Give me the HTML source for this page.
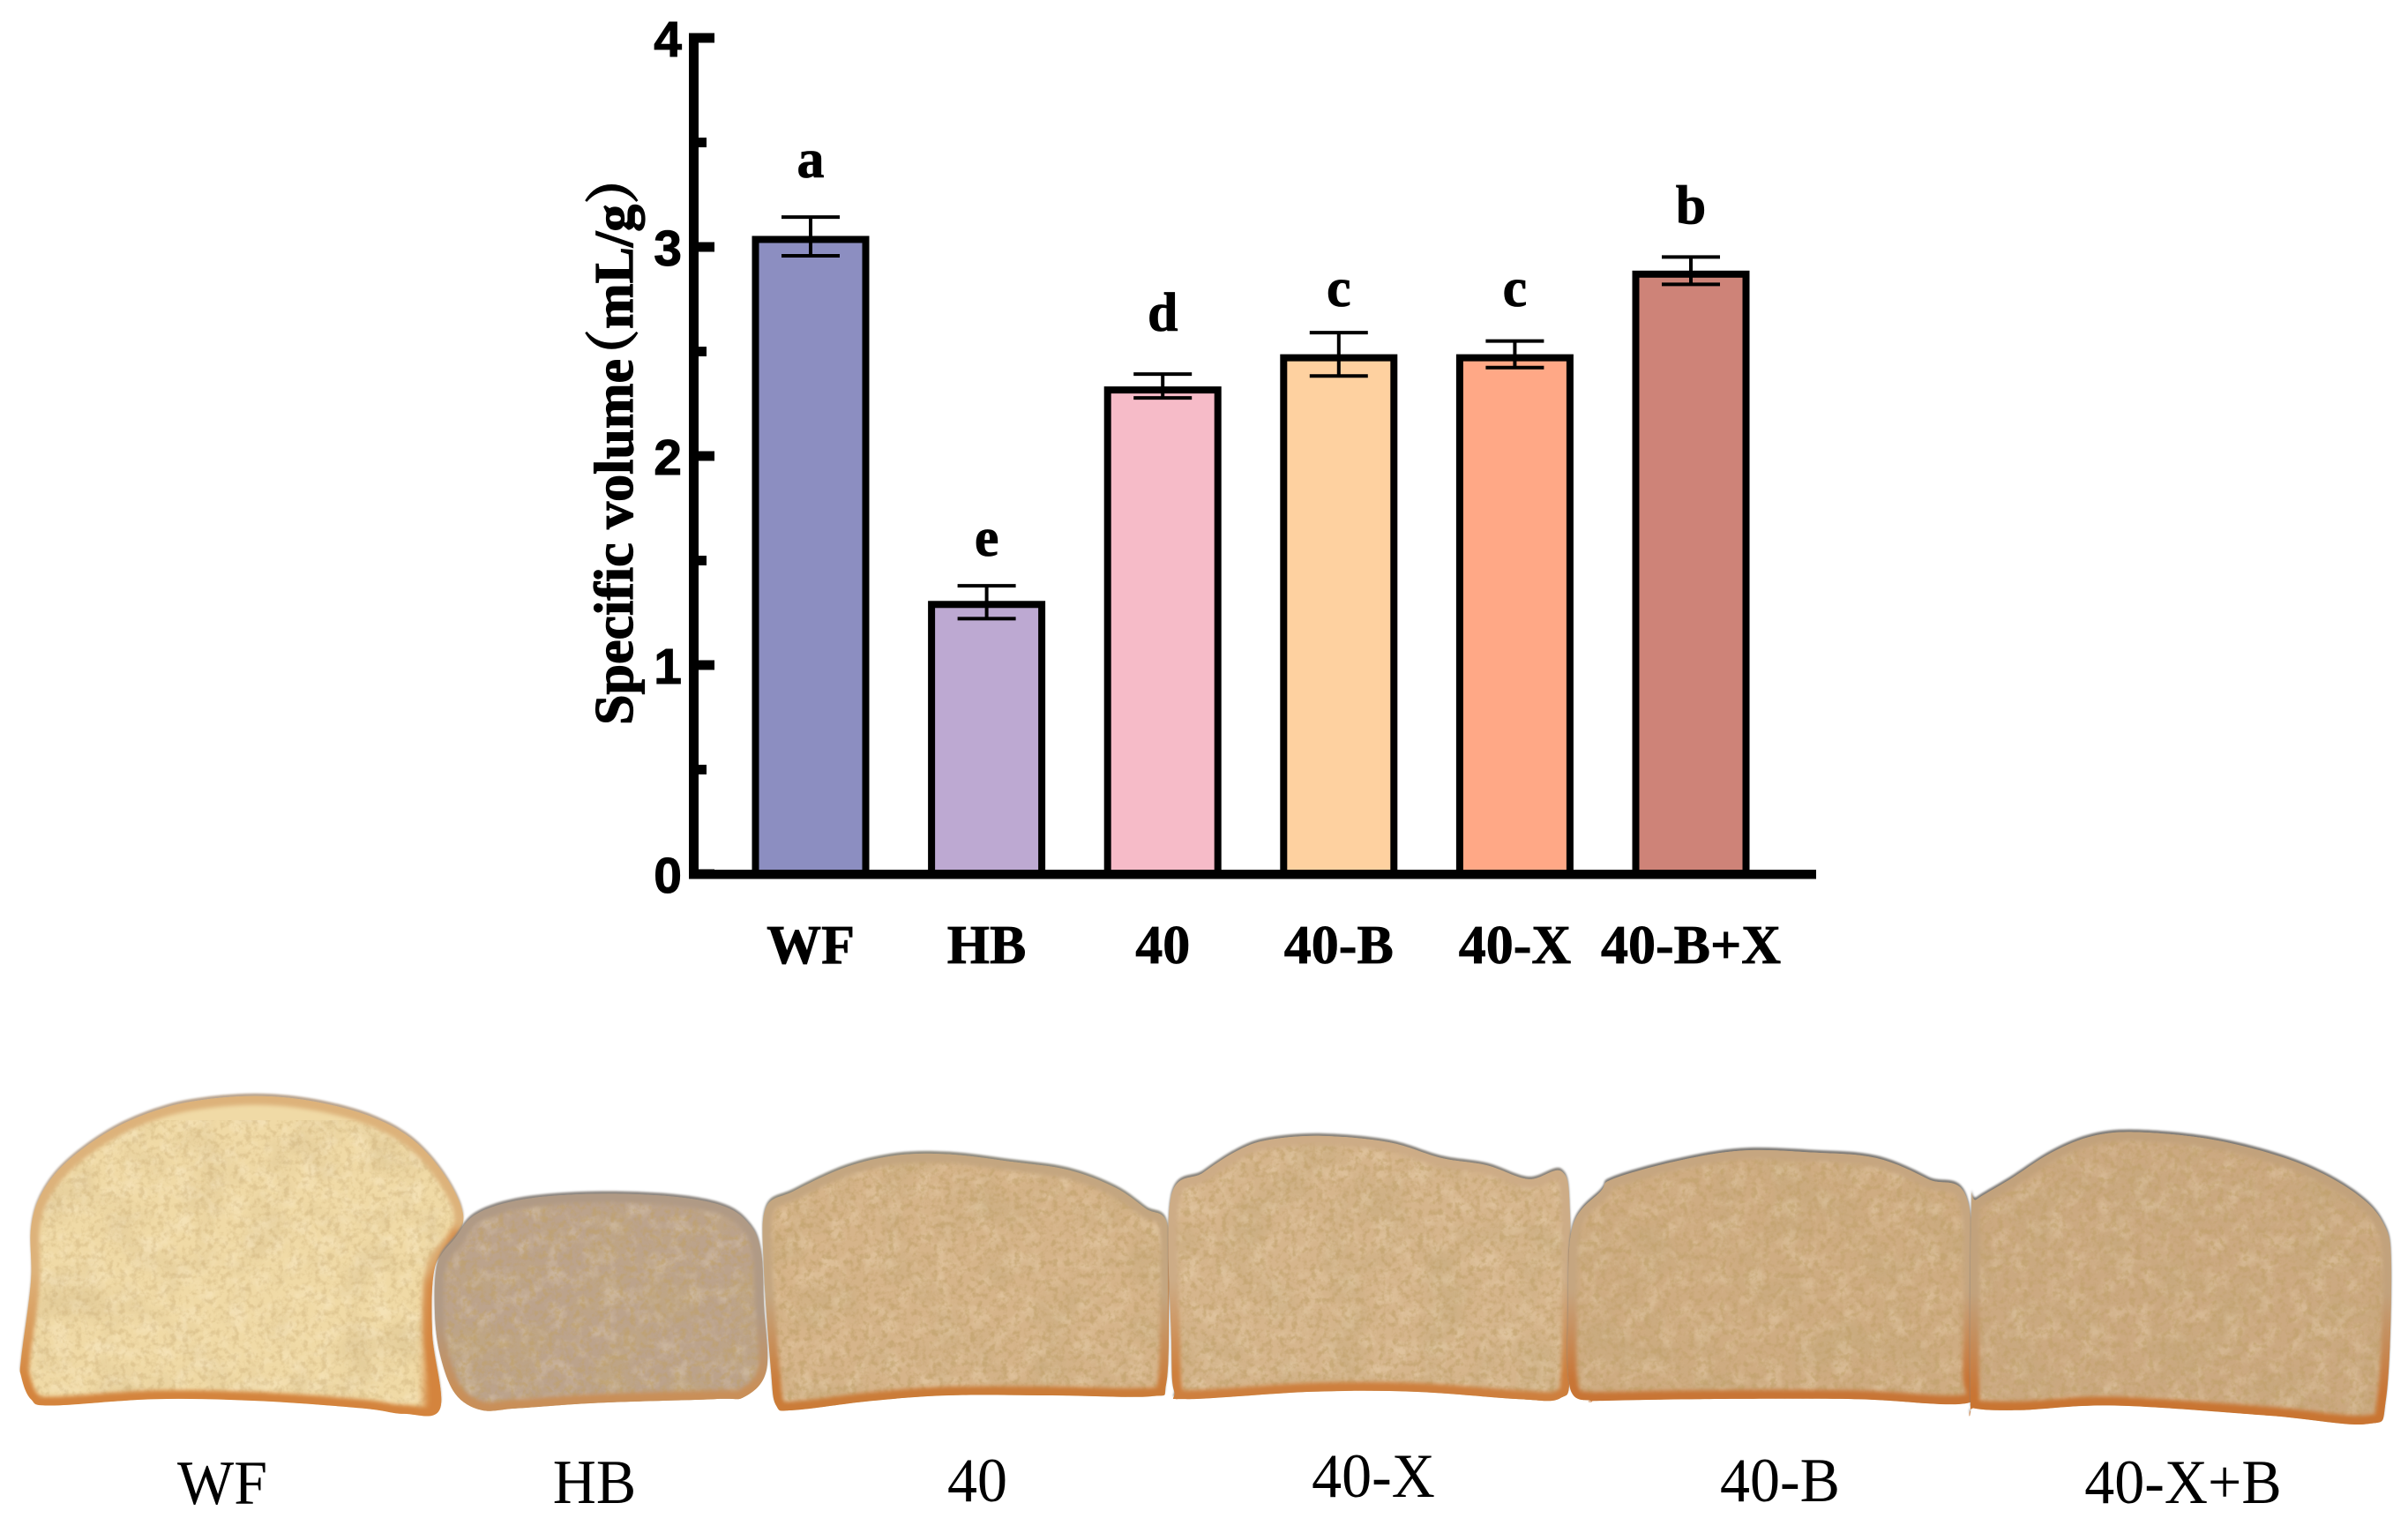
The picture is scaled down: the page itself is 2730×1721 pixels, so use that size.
<!DOCTYPE html>
<html lang="en">
<head>
<meta charset="utf-8">
<title>Specific volume of bread samples</title>
<style>
html,body{margin:0;padding:0;background:#fff;}
svg{display:block;}
.serif{font-family:"Liberation Serif","Noto Serif CJK SC",serif;}
.sans{font-family:"Liberation Sans",sans-serif;}
</style>
</head>
<body>
<svg id="figure" xmlns="http://www.w3.org/2000/svg" width="2730" height="1721" viewBox="0 0 2730 1721">
  <defs>
    <filter id="speck-dark" x="0" y="0" width="100%" height="100%">
      <feTurbulence type="fractalNoise" baseFrequency="0.14" numOctaves="3" seed="4"/>
      <feColorMatrix type="matrix" values="0 0 0 0 .52  0 0 0 0 .35  0 0 0 0 .14  3.4 0 0 0 -1.55"/>
    </filter>
    <filter id="speck-light" x="0" y="0" width="100%" height="100%">
      <feTurbulence type="fractalNoise" baseFrequency="0.05" numOctaves="4" seed="11"/>
      <feColorMatrix type="matrix" values="0 0 0 0 1  0 0 0 0 .9  0 0 0 0 .7  0 2.8 0 0 -1.25"/>
    </filter>
    <filter id="mottle" x="0" y="0" width="100%" height="100%">
      <feTurbulence type="fractalNoise" baseFrequency="0.018" numOctaves="3" seed="23"/>
      <feColorMatrix type="matrix" values="0 0 0 0 .55  0 0 0 0 .40  0 0 0 0 .20  0 0 3 0 -1.35"/>
    </filter>
    <filter id="soft" x="-20%" y="-5%" width="140%" height="110%"><feGaussianBlur stdDeviation="2.5"/></filter>
    <filter id="band-soft" x="-100%" y="-10%" width="300%" height="120%"><feGaussianBlur stdDeviation="5"/></filter>
    <filter id="rim-soft" x="-5%" y="-5%" width="110%" height="110%"><feGaussianBlur stdDeviation="1"/></filter>
  </defs>
  <rect x="0" y="0" width="2730" height="1721" fill="#ffffff"/>

  <g id="loaves"></g>

  <g class="serif" font-size="68" fill="#000" text-anchor="middle">
    <text transform="translate(252 1705) scale(1 1.05)">WF</text>
    <text transform="translate(674 1704) scale(1 1.05)">HB</text>
    <text transform="translate(1108 1702) scale(1 1.05)">40</text>
    <text transform="translate(1557 1697) scale(1 1.05)">40-X</text>
    <text transform="translate(2018 1702) scale(1 1.05)">40-B</text>
    <text transform="translate(2475 1704) scale(1 1.05)">40-X+B</text>
  </g>

  <g id="chart"></g>

  <text class="serif" font-size="62" font-weight="bold" fill="#000" stroke="#000" stroke-width="1.2" transform="rotate(-90 717 822)" x="717" y="822">Specific volume<tspan dx="-28">（</tspan>mL/g）</text>
</svg>

<script>
// Chart data
const categories = ["WF", "HB", "40", "40-B", "40-X", "40-B+X"];
const values = [3.036, 1.29, 2.316, 2.47, 2.47, 2.87];
const errUp = [0.107, 0.089, 0.076, 0.12, 0.08, 0.082];
const errDown = [0.078, 0.068, 0.038, 0.087, 0.047, 0.049];
const sigLetters = ["a", "e", "d", "c", "c", "b"];
const letterLift = [0.19, 0.144, 0.207, 0.127, 0.167, 0.16];
const majorTicks = [0, 1, 2, 3, 4];
const minorTicks = [0.5, 1.5, 2.5, 3.5];
const barFills = ["#8C8EC1", "#BDA9D2", "#F6BBC8", "#FED1A0", "#FFA886", "#CE8378"];

const NS = "http://www.w3.org/2000/svg";
const chart = document.getElementById("chart");
const yScale = v => 991 - v * 237;
const xScale = i => 919 + i * 199.6;

function mk(parent, tag, attrs, text) {
  const el = document.createElementNS(NS, tag);
  for (const k in attrs) el.setAttribute(k, attrs[k]);
  if (text !== undefined) el.textContent = text;
  parent.appendChild(el);
  return el;
}

categories.forEach((cat, i) => {
  const cx = xScale(i);
  const top = yScale(values[i]);
  const bar = mk(chart, "rect", {x: cx - 62.5, y: top, width: 125, height: yScale(0) - top, fill: barFills[i], stroke: "#000", "stroke-width": 8});
  
  
  const hi = yScale(values[i] + errUp[i]);
  const lo = yScale(values[i] - errDown[i]);
  const stem = mk(chart, "line", {x1: cx, x2: cx, y1: hi, y2: lo, stroke: "#000", "stroke-width": 4});
  
  
  const capTop = mk(chart, "line", {x1: cx - 33, x2: cx + 33, y1: hi, y2: hi, stroke: "#000", "stroke-width": 4});
  
  
  const capBottom = mk(chart, "line", {x1: cx - 33, x2: cx + 33, y1: lo, y2: lo, stroke: "#000", "stroke-width": 4});
  
  
  const letter = mk(chart, "text", {x: cx, y: yScale(values[i] + errUp[i] + letterLift[i]), "text-anchor": "middle", "font-size": 62, "font-weight": "bold", class: "serif", fill: "#000", stroke: "#000", "stroke-width": 0.8}, sigLetters[i]);
  
  
  const label = mk(chart, "text", {x: cx, y: 1092, "text-anchor": "middle", "font-size": 62, "font-weight": "bold", class: "serif", fill: "#000", stroke: "#000", "stroke-width": 0.8}, cat);
  
  
});

const yAxisLine = mk(chart, "rect", {x: 781, y: yScale(4) - 5.5, width: 11, height: yScale(0) + 5 - (yScale(4) - 5.5), fill: "#000"});


const xAxisLine = mk(chart, "rect", {x: 781, y: yScale(0) - 5, width: 1278, height: 10.5, fill: "#000"});



majorTicks.forEach(t => {
  const tick = mk(chart, "rect", {x: 781, y: yScale(t) - 5.5, width: 29, height: 11, fill: "#000"});
  
  
  const lab = mk(chart, "text", {x: 773, y: yScale(t) + 21, "text-anchor": "end", "font-size": 57, "font-weight": "bold", class: "sans", fill: "#000", stroke: "#000", "stroke-width": 1}, String(t));
  
  
});
minorTicks.forEach(t => {
  const tick = mk(chart, "rect", {x: 781, y: yScale(t) - 5.5, width: 20, height: 11, fill: "#000"});
  
  
});
</script>

<script>
// Bread photo illustration (not chart data)
const loafNames = ["loaf-wf", "loaf-hb", "loaf-40", "loaf-40-x", "loaf-40-b", "loaf-40-x-b"];
const loafOutlines = [
  [[24,1546],[35,1571],[59,1578],[176,1571],[293,1573],[411,1581],[458,1587],[499,1581],[490,1500],[493,1428],[516,1399],[525,1370],[505,1329],[469,1290],[423,1265],[364,1249],[305,1242],[246,1244],[188,1254],[129,1277],[76,1313],[47,1348],[35,1386],[35,1444],[24,1527]],
  [[540,1370],[593,1354],[675,1348],[763,1351],[822,1362],[851,1383],[863,1412],[866,1469],[869,1539],[845,1568],[810,1571],[681,1575],[587,1581],[546,1583],[516,1565],[499,1523],[493,1476],[496,1424],[516,1396]],
  [[868,1364],[900,1345],[959,1319],[1017,1306],[1076,1305],[1146,1313],[1211,1322],[1264,1341],[1299,1364],[1324,1383],[1325,1476],[1322,1555],[1305,1568],[1193,1567],[1076,1567],[988,1573],[900,1583],[880,1578],[874,1539],[866,1428]],
  [[1327,1354],[1364,1325],[1405,1300],[1440,1289],[1499,1285],[1575,1292],[1634,1309],[1686,1317],[1733,1332],[1771,1324],[1780,1373],[1780,1539],[1769,1570],[1722,1571],[1604,1563],[1487,1563],[1346,1571],[1331,1562],[1328,1507]],
  [[1783,1383],[1815,1345],[1828,1332],[1898,1313],[1974,1301],[2056,1303],[2127,1309],[2186,1332],[2232,1360],[2235,1539],[2232,1575],[2103,1571],[1927,1571],[1810,1573],[1804,1573],[1780,1559],[1778,1470]],
  [[2241,1354],[2279,1332],[2326,1303],[2373,1285],[2426,1281],[2514,1290],[2602,1313],[2667,1345],[2702,1380],[2711,1428],[2705,1571],[2684,1598],[2573,1589],[2397,1578],[2291,1583],[2238,1581],[2234,1571],[2235,1364]]
];
const loafCrumb = ["#F0DAA6", "#BCA38C", "#D6B48A", "#D6B58C", "#CFAC82", "#CCA981"];
const loafCrustTop = ["#DDB27A", "#B09A85", "#C4A680", "#CDAC86", "#C6A680", "#C2A27C"];
const loafCrust = ["#D4843C", "#C98F58", "#CB7B38", "#CE7F3C", "#C87536", "#C97433"];
const loafRim = ["#B9A48F", "#8D8680", "#8F8A7E", "#87827A", "#7E7A76", "#7E7A76"];
const loafSideBands = [
  "M530 1400L500 1460L497 1610",
  "",
  "M1328 1400L1326 1590",
  "M1780 1420L1782 1600",
  "",
  "M2240 1370L2240 1610"
];
const loafBandWidths = [34, 0, 10, 10, 0, 32];

const svgNS = "http://www.w3.org/2000/svg";
const loaves = document.getElementById("loaves");
const defs = document.querySelector("defs");

function smoothPath(p) {
  const n = p.length;
  let d = "M" + p[0][0] + " " + p[0][1];
  for (let i = 0; i < n; i++) {
    const a = p[(i - 1 + n) % n], b = p[i], c = p[(i + 1) % n], e = p[(i + 2) % n];
    d += "C" + (b[0] + (c[0] - a[0]) / 6) + " " + (b[1] + (c[1] - a[1]) / 6) + " " + (c[0] - (e[0] - b[0]) / 6) + " " + (c[1] - (e[1] - b[1]) / 6) + " " + c[0] + " " + c[1];
  }
  return d + "Z";
}
function add(parent, tag, attrs) {
  const el = document.createElementNS(svgNS, tag);
  for (const k in attrs) el.setAttribute(k, attrs[k]);
  parent.appendChild(el);
  return el;
}

loafOutlines.forEach((raw, i) => {
  const pts = raw.map(p => [p[0], 1220 + (p[1] - 1220) * 1.0433]);
  const d = smoothPath(pts);
  const clip = add(defs, "clipPath", {id: "clip" + i});
  add(clip, "path", {d: d});
  const grad = add(defs, "linearGradient", {id: "crust" + i, x1: 0, y1: 0, x2: 0, y2: 1});
  add(grad, "stop", {offset: "0", "stop-color": loafCrustTop[i]});
  add(grad, "stop", {offset: "0.55", "stop-color": loafCrustTop[i]});
  add(grad, "stop", {offset: "0.9", "stop-color": loafCrust[i]});
  add(grad, "stop", {offset: "1", "stop-color": loafCrust[i]});

  const g = add(loaves, "g", {});
  
  
  add(g, "path", {d: d, fill: loafRim[i], transform: "translate(0,-3)", filter: "url(#rim-soft)"});
  const inner = add(g, "g", {"clip-path": "url(#clip" + i + ")"});
  add(inner, "path", {d: d, fill: loafCrumb[i]});
  add(inner, "rect", {x: 0, y: 1270, width: 2730, height: 350, filter: "url(#mottle)", opacity: i === 0 ? 0.25 : 0.45});
  add(inner, "rect", {x: 0, y: 1270, width: 2730, height: 350, filter: "url(#speck-light)", opacity: i === 0 ? 0.3 : 0.22});
  add(inner, "rect", {x: 0, y: 1270, width: 2730, height: 350, filter: "url(#speck-dark)", opacity: i === 0 ? 0.3 : 0.6});
  add(inner, "path", {d: d, fill: "none", stroke: "url(#crust" + i + ")", "stroke-width": 20, filter: "url(#soft)"});
  if (loafSideBands[i]) {
    add(inner, "path", {d: loafSideBands[i], fill: "none", stroke: loafCrust[i], "stroke-width": loafBandWidths[i], filter: "url(#band-soft)"});
  }
});
</script>
</body>
</html>
